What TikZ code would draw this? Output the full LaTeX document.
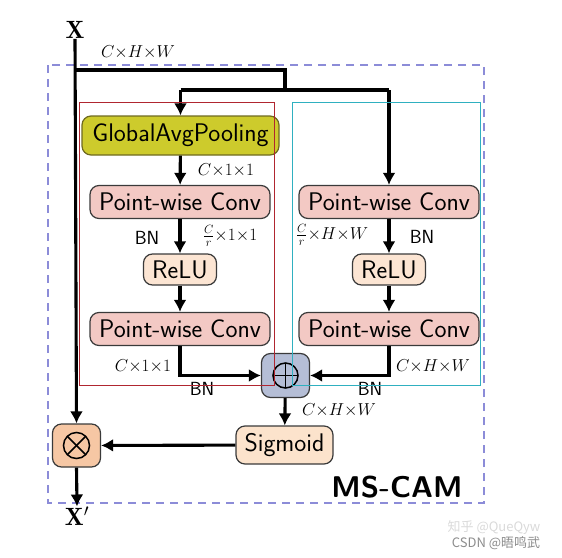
\documentclass[tikz,border=0pt]{standalone}
\usepackage{fontspec}
\newfontfamily\cjk{Noto Sans CJK SC}
\usetikzlibrary{arrows.meta,positioning}
\definecolor{gapfill}{HTML}{CDCB2C}
\definecolor{gapdraw}{HTML}{6E6A20}
\definecolor{pwfill}{HTML}{F3C9C4}
\definecolor{relufill}{HTML}{FCE5D3}
\definecolor{sigfill}{HTML}{FCE3CC}
\definecolor{addfill}{HTML}{B5BED6}
\definecolor{mulfill}{HTML}{F6C7A4}
\definecolor{boxdraw}{HTML}{3A3A3A}
\definecolor{dashcol}{HTML}{8C8CD8}
\definecolor{redbox}{HTML}{B02630}
\definecolor{cyanbox}{HTML}{2FB0C0}
\begin{document}
\begin{tikzpicture}[x=1pt,y=-1pt,
  blk/.style={rounded corners=9pt, draw=boxdraw, line width=1.2pt, inner sep=0pt, font=\sffamily\fontsize{25.5}{28}\selectfont},
  pwbox/.style={blk, fill=pwfill, minimum width=180pt, minimum height=33pt},
  relubox/.style={blk, fill=relufill, minimum width=73pt, minimum height=31pt},
  opbox/.style={blk, minimum width=48pt, minimum height=44pt},
  conn/.style={line width=3.1pt, line join=miter},
  arr/.style={conn, -{Latex[length=12pt,width=13pt]}},
  lab/.style={font=\fontsize{17.5}{20}\selectfont, inner sep=1pt},
  bn/.style={font=\sffamily\fontsize{19}{22}\selectfont, inner sep=1pt}
]
\useasboundingbox (0,0) rectangle (562,557);
% outer dashed box
\draw[dashcol, line width=1.6pt, dash pattern=on 8pt off 6pt] (48,65) rectangle (484,503);
% nodes
\node[blk, fill=gapfill, draw=gapdraw, minimum width=197pt, minimum height=39pt] (gap) at (180.5,135.5) {GlobalAvgPooling};
\node[pwbox] (pl1) at (180,202) {Point-wise Conv};
\node[relubox] (rl) at (180,269.5) {ReLU};
\node[pwbox] (pl2) at (180,329) {Point-wise Conv};
\node[pwbox] (pr1) at (389,202) {Point-wise Conv};
\node[relubox] (rr) at (389,269.5) {ReLU};
\node[pwbox] (pr2) at (389,329) {Point-wise Conv};
\node[opbox, fill=addfill] (add) at (285.5,375.5) {};
\node[blk, fill=sigfill, minimum width=97pt, minimum height=38pt] (sig) at (284.5,445) {Sigmoid};
\node[opbox, fill=mulfill, minimum height=43pt] (mul) at (76.5,445.5) {};
% symbols
\draw[line width=1.5pt] (add.center) circle (12.5pt);
\draw[line width=1.5pt] ([xshift=-12.5pt]add.center) -- ([xshift=12.5pt]add.center);
\draw[line width=1.5pt] ([yshift=-12.5pt]add.center) -- ([yshift=12.5pt]add.center);
\draw[line width=1.5pt] (mul.center) circle (13pt);
\draw[line width=1.5pt] ([shift={(-9.2pt,-9.2pt)}]mul.center) -- ([shift={(9.2pt,9.2pt)}]mul.center);
\draw[line width=1.5pt] ([shift={(-9.2pt,9.2pt)}]mul.center) -- ([shift={(9.2pt,-9.2pt)}]mul.center);
% input / output labels
\node[font=\fontsize{25}{28}\selectfont, inner sep=0pt] (x) at (75,30) {$\mathbf{X}$};
\node[font=\fontsize{25}{28}\selectfont, inner sep=0pt] (xo) at (77,516) {$\mathbf{X}'$};
\coordinate (j1) at (76,70);
\coordinate (j2) at (285,70);
\coordinate (j3) at (285,90);
\coordinate (jl) at (180.5,90);
\coordinate (jr) at (389,90);
% connectors
\draw[arr] (x.south) -- (mul.north);
\draw[conn] (j1) -- (j2) -- (j3);
\draw[conn] (jl) -- (jr);
\draw[arr] (jl) -- (gap.north);
\draw[arr] (jr) -- (pr1.north);
\draw[arr] (gap) -- (pl1);
\draw[arr] (pl1) -- (rl);
\draw[arr] (rl) -- (pl2);
\draw[arr] (pr1) -- (rr);
\draw[arr] (rr) -- (pr2);
\draw[arr] (pl2.south) |- (add.west);
\draw[arr] (pr2.south) |- (add.east);
\draw[arr] (add) -- (sig);
\draw[arr] (sig) -- (mul);
\draw[arr] (mul.south) -- (xo.north);
% labels
\node[lab] (l0) at (138,52) {$C{\times}H{\times}W$};
\node[lab] (l1) at (226,170) {$C{\times}1{\times}1$};
\node[bn] (b1) at (147,238) {BN};
\node[lab] (l2) at (230,236) {$\frac{C}{r}{\times}1{\times}1$};
\node[lab] (l3) at (332,235) {$\frac{C}{r}{\times}H{\times}W$};
\node[bn] (b2) at (422,237) {BN};
\node[lab] (l4) at (143,366) {$C{\times}1{\times}1$};
\node[bn] (b3) at (202,389) {BN};
\node[lab] (l5) at (433,366) {$C{\times}H{\times}W$};
\node[bn] (b4) at (370,389) {BN};
\node[lab] (l6) at (339,410) {$C{\times}H{\times}W$};
\node[font=\sffamily\bfseries\fontsize{30}{34}\selectfont, inner sep=0pt] (ms) at (397,487) {MS-CAM};
% inner boxes on top
\draw[redbox, line width=0.8pt] (79,102) rectangle (274,385);
\draw[cyanbox, line width=0.8pt] (292,102) rectangle (480,385);
% watermark
\node[font=\cjk\fontsize{13}{15}\selectfont, text=black!15, inner sep=0pt] (wm1) at (494,528) {知乎 @QueQyw};
\node[font=\cjk\fontsize{13}{15}\selectfont, text=black!45, inner sep=0pt] (wm2) at (496,543) {CSDN @晤鸣武};
\end{tikzpicture}
\end{document}
